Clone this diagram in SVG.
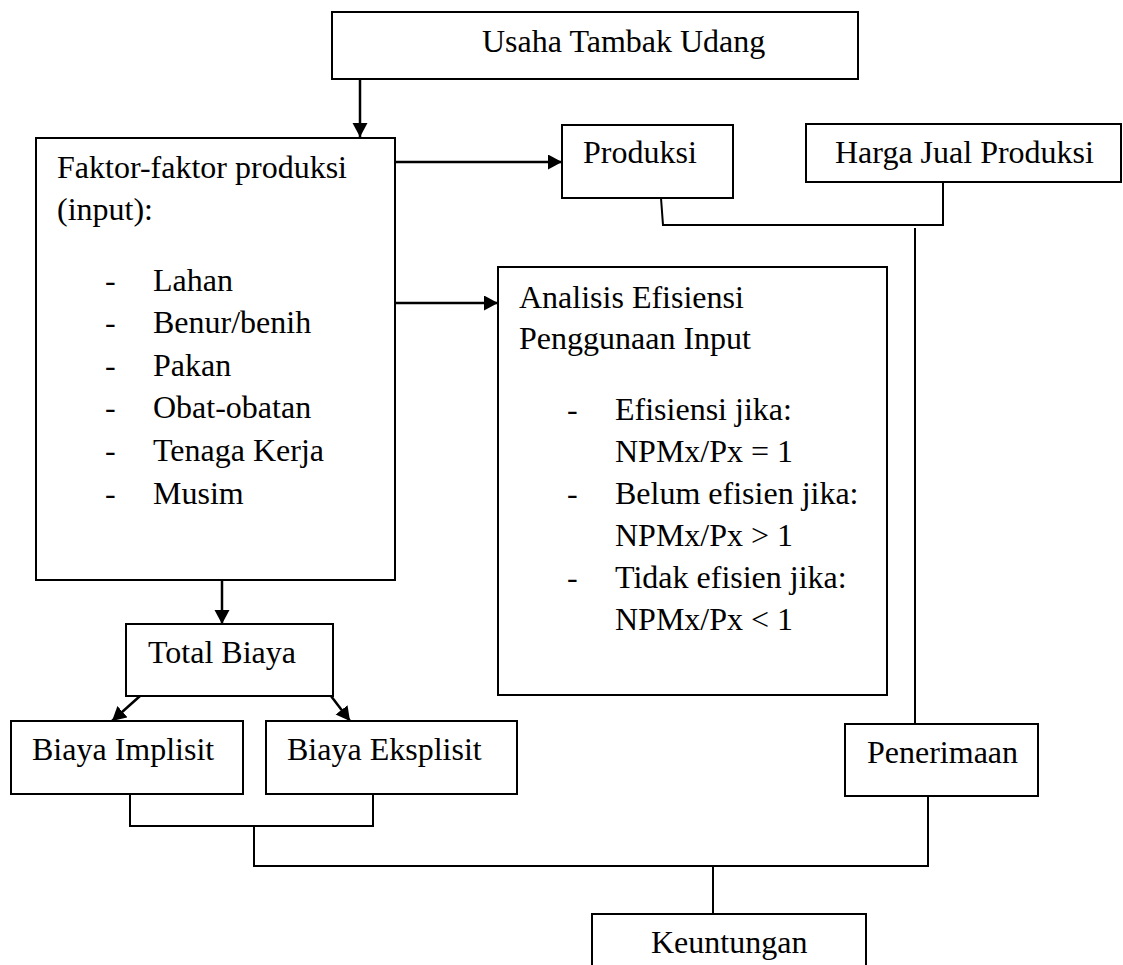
<svg xmlns="http://www.w3.org/2000/svg" width="1123" height="965" viewBox="0 0 1123 965">
<style>
.box{fill:#fff;stroke:#000;stroke-width:2}
.t{font-family:"Liberation Serif","Times New Roman",serif;font-size:32px;fill:#000}
.arr{stroke:#000;stroke-width:2.5;fill:none;marker-end:url(#ah)}
.ln{stroke:#000;stroke-width:2;fill:none}
</style>
<defs>
<marker id="ah" markerUnits="userSpaceOnUse" markerWidth="15" markerHeight="16" refX="14" refY="7.5" orient="auto">
<path d="M0,0 L14,7.5 L0,15 z" fill="#000"/>
</marker>
</defs>
<rect width="1123" height="965" fill="#fff"/>
<g id="connectors">
<line class="arr" x1="360" y1="79" x2="360" y2="137"/>
<line class="arr" x1="395" y1="162" x2="562" y2="162"/>
<line class="arr" x1="395" y1="303" x2="498" y2="303"/>
<line class="arr" x1="222" y1="580" x2="222" y2="624"/>
<line class="arr" x1="140" y1="696" x2="112" y2="721"/>
<line class="arr" x1="331" y1="696" x2="350" y2="721"/>
<polyline class="ln" points="661,198 663,225 943,225 943,182"/>
<line class="ln" x1="915" y1="228" x2="915" y2="724"/>
<polyline class="ln" points="130,794 130,826 373,826 373,794"/>
<polyline class="ln" points="254,826 254,866 928,866 928,796"/>
<line class="ln" x1="713" y1="866" x2="713" y2="914"/>
</g>
<g id="usaha">
<rect class="box" x="332" y="12" width="526" height="67"/>
<text class="t" x="482" y="52">Usaha Tambak Udang</text>
</g>
<g id="faktor">
<rect class="box" x="36" y="138" width="359" height="442"/>
<text class="t" x="57" y="178">Faktor-faktor produksi</text>
<text class="t" x="57" y="220">(input):</text>
<g class="t">
<text x="105" y="291">-</text><text x="153" y="291">Lahan</text>
<text x="105" y="333">-</text><text x="153" y="333">Benur/benih</text>
<text x="105" y="376">-</text><text x="153" y="376">Pakan</text>
<text x="105" y="418">-</text><text x="153" y="418">Obat-obatan</text>
<text x="105" y="461">-</text><text x="153" y="461">Tenaga Kerja</text>
<text x="105" y="504">-</text><text x="153" y="504">Musim</text>
</g>
</g>
<g id="produksi">
<rect class="box" x="562" y="125" width="171" height="73"/>
<text class="t" x="583" y="163">Produksi</text>
</g>
<g id="harga">
<rect class="box" x="806" y="124" width="315" height="58"/>
<text class="t" x="835" y="163">Harga Jual Produksi</text>
</g>
<g id="analisis">
<rect class="box" x="498" y="267" width="389" height="428"/>
<g class="t">
<text x="519" y="308">Analisis Efisiensi</text>
<text x="519" y="349">Penggunaan Input</text>
<text x="567" y="420">-</text><text x="615" y="420">Efisiensi jika:</text>
<text x="615" y="462">NPMx/Px = 1</text>
<text x="567" y="504">-</text><text x="615" y="504">Belum efisien jika:</text>
<text x="615" y="546">NPMx/Px &gt; 1</text>
<text x="567" y="588">-</text><text x="615" y="588">Tidak efisien jika:</text>
<text x="615" y="630">NPMx/Px &lt; 1</text>
</g>
</g>
<g id="total">
<rect class="box" x="126" y="624" width="207" height="72"/>
<text class="t" x="148" y="663">Total Biaya</text>
</g>
<g id="implisit">
<rect class="box" x="11" y="721" width="232" height="73"/>
<text class="t" x="32" y="760">Biaya Implisit</text>
</g>
<g id="eksplisit">
<rect class="box" x="266" y="721" width="251" height="73"/>
<text class="t" x="287" y="760">Biaya Eksplisit</text>
</g>
<g id="penerimaan">
<rect class="box" x="845" y="724" width="193" height="72"/>
<text class="t" x="867" y="763">Penerimaan</text>
</g>
<g id="keuntungan">
<rect class="box" x="592" y="914" width="274" height="70"/>
<text class="t" x="651" y="953">Keuntungan</text>
</g>
</svg>
